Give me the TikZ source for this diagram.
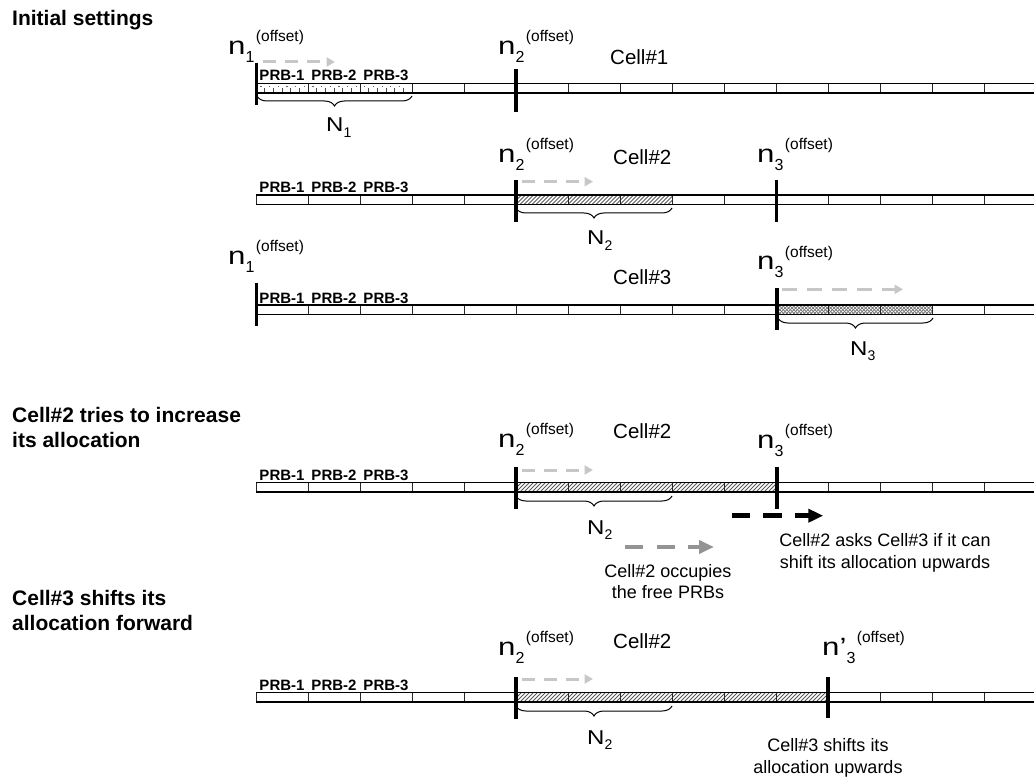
\documentclass[tikz,border=0pt]{standalone}
\usepackage{fontspec}
\setmainfont{Liberation Sans}
\usetikzlibrary{arrows.meta,decorations.pathreplacing}

% offset label n_k^(offset)
\newcommand\nofs[2]{\scalebox{1.25}[1]{\fontsize{25}{25}\selectfont #1}\raisebox{-8pt}{\fontsize{16}{16}\selectfont #2}\hspace{1.5pt}\raisebox{13pt}{\fontsize{15.5}{15.5}\selectfont (offset)}}
% allocation size N_k
\newcommand\bigN[1]{\scalebox{1.2}[1]{\fontsize{20}{20}\selectfont N}\raisebox{-5.5pt}{\fontsize{14}{14}\selectfont #1}}

% one row of 15 PRB cells, #1 = top edge
\newcommand\prbstrip[1]{%
  \foreach \k in {0,...,14} \draw[celldiv] ({256+52*\k},#1) -- ++(0,9.5);
  \draw[stripedge] (256,#1) -- (1040,#1) (256,#1+9.5) -- (1040,#1+9.5);
}
% diagonal hatching from #1 to #2, top edge #3
\newcommand\hatchcells[3]{%
  \begin{scope}
    \clip (#1,#3) rectangle (#2,#3+9.5);
    \foreach \s in {0,4,...,330} \draw[hatchline] (#1+\s-12,#3+9.5) -- ++(12,-12);
  \end{scope}}
% cross hatching
\newcommand\crosscells[3]{%
  \begin{scope}
    \clip (#1,#3) rectangle (#2,#3+9.5);
    \foreach \s in {0,3.5,...,170} {
      \draw[crossline] (#1+\s-12,#3+9.5) -- ++(12,-12);
      \draw[crossline] (#1+\s-12,#3) -- ++(12,12);}
  \end{scope}}
% ruler-like dotted filling
\newcommand\dotcells[3]{%
  \foreach \s in {8.67,17.33,...,150} {
    \draw[dotline] (#1+\s,#3+5) -- (#1+\s,#3+9.5);
    \fill[black!60] (#1+\s-4.3,#3+2.5) rectangle ++(1.2,1.2);}
}

\tikzset{
  heading/.style={anchor=base west, inner sep=0pt, font=\fontsize{21}{24}\selectfont\bfseries},
  cellname/.style={anchor=base west, inner sep=0pt, font=\fontsize{20.5}{24}\selectfont},
  prb/.style={anchor=base, inner sep=0pt, font=\fontsize{15}{15}\selectfont\bfseries},
  note/.style={anchor=base, inner sep=0pt, font=\fontsize{18}{18}\selectfont},
  offlabel/.style={anchor=base west, inner sep=0pt},
  celldiv/.style={line width=1pt, black!85},
  stripedge/.style={line width=1.5pt, black},
  offsetbar/.style={line width=3.3pt, black},
  lightarrow/.style={draw=black!22, line width=3pt, dash pattern=on 13pt off 9pt, -{Triangle[length=8.5pt,width=9pt]}},
  askarrow/.style={draw=black, line width=4.5pt, dash pattern=on 18.3pt off 13.3pt, -{Triangle[length=15pt,width=13pt]}},
  occarrow/.style={askarrow, draw=black!42},
  allocbrace/.style={decorate, decoration={brace, mirror, amplitude=10pt}, line width=1pt},
  hatchline/.style={line width=1pt, black!65},
  crossline/.style={line width=0.7pt, black!55},
  dotline/.style={line width=0.8pt, black!70},
}

\begin{document}
\begin{tikzpicture}[x=1pt,y=-1pt]
\useasboundingbox (0,0) rectangle (1034,778);
\fill[white] (0,0) rectangle (1034,778);

% ---------- headings ----------
\node[heading] (h1) at (12,26) {Initial settings};
\node[heading] (h2a) at (12,422) {Cell\#2 tries to increase};
\node[heading] (h2b) at (12,447) {its allocation};
\node[heading] (h3a) at (12,605) {Cell\#3 shifts its};
\node[heading] (h3b) at (12,630) {allocation forward};

% ---------- row 1 : Cell#1 ----------
\dotcells{256}{412}{83.5}
\prbstrip{83.5}
\foreach \k/\t in {0/PRB-1,1/PRB-2,2/PRB-3} \node[prb] (prb\k-a) at ({282+52*\k},81) {\t};
\draw[offsetbar] (256.5,63) -- (256.5,105);
\draw[offsetbar] (516,69) -- (516,112);
\node[offlabel] (n1a) at (228,55) {\nofs{n}{1}};
\node[offlabel] (n2a) at (498,55) {\nofs{n}{2}};
\node[cellname] (c1) at (610,65) {Cell\#1};
\coordinate (a1s) at (263,62); \coordinate (a1e) at (335,62);
\draw[lightarrow] (a1s) -- (a1e);
\coordinate (b1s) at (257,96); \coordinate (b1e) at (412,96);
\draw[allocbrace] (b1s) -- (b1e);
\node[offlabel] (N1) at (326,132) {\bigN{1}};

% ---------- row 2 : Cell#2 ----------
\hatchcells{516}{672}{195}
\prbstrip{195}
\foreach \k/\t in {0/PRB-1,1/PRB-2,2/PRB-3} \node[prb] (prb\k-b) at ({282+52*\k},193) {\t};
\draw[offsetbar] (516,180) -- (516,222);
\draw[offsetbar] (776.5,180) -- (776.5,222);
\node[offlabel] (n2b) at (498,163) {\nofs{n}{2}};
\node[offlabel] (n3b) at (757,163) {\nofs{n}{3}};
\node[cellname] (c2) at (613,165) {Cell\#2};
\coordinate (a2s) at (522,181.7); \coordinate (a2e) at (593,181.7);
\draw[lightarrow] (a2s) -- (a2e);
\coordinate (b2s) at (516,208); \coordinate (b2e) at (672,208);
\draw[allocbrace] (b2s) -- (b2e);
\node[offlabel] (N2b) at (587,245) {\bigN{2}};

% ---------- row 3 : Cell#3 ----------
\crosscells{776.5}{932}{305}
\prbstrip{305}
\foreach \k/\t in {0/PRB-1,1/PRB-2,2/PRB-3} \node[prb] (prb\k-c) at ({282+52*\k},303) {\t};
\draw[offsetbar] (256.5,283) -- (256.5,326);
\draw[offsetbar] (777,288) -- (777,330);
\node[offlabel] (n1c) at (228,265) {\nofs{n}{1}};
\node[offlabel] (n3c) at (757,270) {\nofs{n}{3}};
\node[cellname] (c3) at (613,285) {Cell\#3};
\coordinate (a3s) at (782,289.3); \coordinate (a3e) at (903,289.3);
\draw[lightarrow, dash pattern=on 15pt off 10pt] (a3s) -- (a3e);
\coordinate (b3s) at (778,318); \coordinate (b3e) at (933,318);
\draw[allocbrace] (b3s) -- (b3e);
\node[offlabel] (N3) at (850,355) {\bigN{3}};

% ---------- row 4 : Cell#2 grows ----------
\hatchcells{516}{776}{482.5}
\prbstrip{482.5}
\foreach \k/\t in {0/PRB-1,1/PRB-2,2/PRB-3} \node[prb] (prb\k-d) at ({282+52*\k},480.5) {\t};
\draw[offsetbar] (516,467) -- (516,509);
\draw[offsetbar] (777,467) -- (777,509);
\node[offlabel] (n2d) at (498,447) {\nofs{n}{2}};
\node[offlabel] (n3d) at (757,448) {\nofs{n}{3}};
\node[cellname] (c2d) at (613,438) {Cell\#2};
\coordinate (a4s) at (522,470); \coordinate (a4e) at (593,470);
\draw[lightarrow] (a4s) -- (a4e);
\coordinate (b4s) at (516,496); \coordinate (b4e) at (672,496);
\draw[allocbrace] (b4s) -- (b4e);
\node[offlabel] (N2d) at (587,534) {\bigN{2}};
\coordinate (ask-s) at (731.7,515.7); \coordinate (ask-e) at (823.3,515.7);
\draw[askarrow] (ask-s) -- (ask-e);
\node[note] (ask1) at (885,546.7) {Cell\#2 asks Cell\#3 if it can};
\node[note] (ask2) at (885,568) {shift its allocation upwards};
\coordinate (occ-s) at (625,547); \coordinate (occ-e) at (714,547);
\draw[occarrow] (occ-s) -- (occ-e);
\node[note] (occ1) at (668,577) {Cell\#2 occupies};
\node[note] (occ2) at (668,598) {the free PRBs};

% ---------- row 5 : Cell#3 shifted ----------
\hatchcells{516}{828}{692.5}
\prbstrip{692.5}
\foreach \k/\t in {0/PRB-1,1/PRB-2,2/PRB-3} \node[prb] (prb\k-e) at ({282+52*\k},690.5) {\t};
\draw[offsetbar] (516,677) -- (516,719);
\draw[offsetbar] (828,677) -- (828,718);
\node[offlabel] (n2e) at (498,655) {\nofs{n}{2}};
\node[offlabel] (n3e) at (822,655) {\nofs{n’}{3}};
\node[cellname] (c2e) at (613,648) {Cell\#2};
\coordinate (a5s) at (522,679); \coordinate (a5e) at (593,679);
\draw[lightarrow] (a5s) -- (a5e);
\coordinate (b5s) at (516,706); \coordinate (b5e) at (672,706);
\draw[allocbrace] (b5s) -- (b5e);
\node[offlabel] (N2e) at (587,744) {\bigN{2}};
\node[note] (sh1) at (828,751) {Cell\#3 shifts its};
\node[note] (sh2) at (828,773) {allocation upwards};
\end{tikzpicture}
\end{document}
